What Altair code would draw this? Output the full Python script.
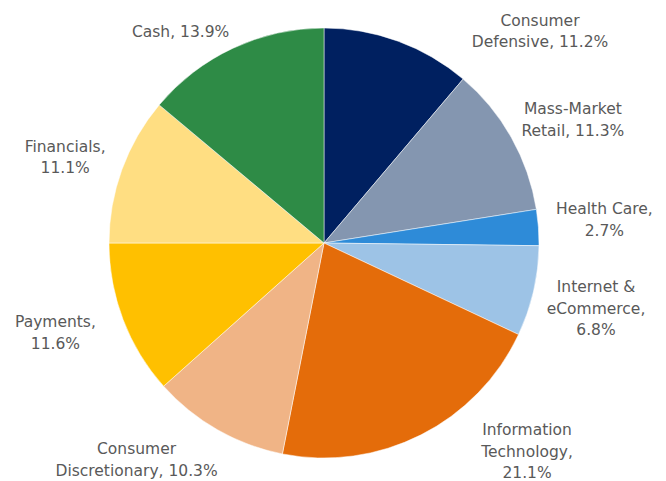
import altair as alt
import pandas as pd

# --- data ---
sectors = ["Consumer Defensive", "Mass-Market Retail", "Health Care",
           "Internet & eCommerce", "Information Technology",
           "Consumer Discretionary", "Payments", "Financials", "Cash"]
weights = [11.2, 11.3, 2.7, 6.8, 21.1, 10.3, 11.6, 11.1, 13.9]
label_lines = [["Consumer", "Defensive, 11.2%"],
               ["Mass-Market", "Retail, 11.3%"],
               ["Health Care,", "2.7%"],
               ["Internet &", "eCommerce,", "6.8%"],
               ["Information", "Technology,", "21.1%"],
               ["Consumer", "Discretionary, 10.3%"],
               ["Payments,", "11.6%"],
               ["Financials,", "11.1%"],
               ["Cash, 13.9%"]]

# --- styles ---
colors = ["#002060", "#8496B0", "#2E8BD8", "#9DC3E6", "#E46C0A",
          "#F0B486", "#FFC000", "#FFDE82", "#2E8B46"]
LINE_H = 21.5
# label nudges (dx, dy) of the label block centre from the mid-angle anchor
nudges = [(135, 9), (44, -8), (46, -6), (43, 13), (97, -1),
          (-71, 13), (-49, 6), (-38, -5), (-44, 2)]

df = pd.DataFrame({
    "sector": sectors,
    "value": weights,
    "idx": list(range(len(sectors))),
    "label": ["\n".join(l) for l in label_lines],
})

theta_scale = alt.Scale(domain=[0, 100])

base = alt.Chart(df).transform_window(
    end="sum(value)", sort=[alt.SortField("idx")],
    frame=[None, 0]
).transform_calculate(
    start="datum.end - datum.value",
    mid="datum.end - datum.value / 2",
)

pie = base.mark_arc(outerRadius=215, stroke="white", strokeWidth=0.5).encode(
    theta=alt.Theta("start:Q", scale=theta_scale),
    theta2="end:Q",
    color=alt.Color("sector:N", scale=alt.Scale(domain=sectors, range=colors),
                    legend=None),
)

layers = [pie]
for name, lines, (dx, dy) in zip(sectors, label_lines, nudges):
    shift = -(len(lines) - 1) * LINE_H / 2
    layers.append(
        base.transform_filter(alt.datum.sector == name).mark_text(
            radius=235, dx=dx, dy=dy + shift, font="DejaVu Sans", fontSize=15.5,
            color="#595959", align="center", baseline="middle",
            lineBreak="\n", lineHeight=LINE_H,
        ).encode(
            theta=alt.Theta("mid:Q", scale=theta_scale),
            text="label:N",
        )
    )

chart = alt.layer(*layers).properties(
    width=632, height=470, autosize="none",
    padding={"left": 0, "top": 0, "right": 18, "bottom": 3}
).configure_view(stroke=None)

chart.save("out.html", embed_options={"renderer": "svg", "actions": False})
